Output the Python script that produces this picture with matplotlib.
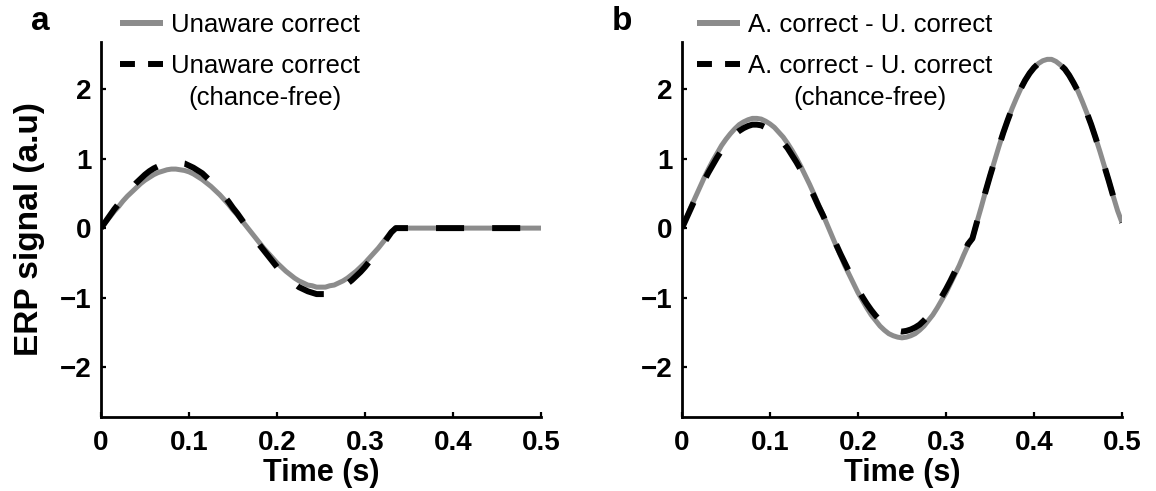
import numpy as np
import matplotlib
matplotlib.use("Agg")
import matplotlib.pyplot as plt
from matplotlib.lines import Line2D

plt.rcParams['font.family'] = ['Liberation Sans', 'DejaVu Sans']

# ---- data ----
time_s = np.round(np.arange(101) * 0.005, 3)

unaware_correct = [
    0.00, 0.08, 0.16, 0.24, 0.31, 0.39, 0.46, 0.52, 0.58, 0.64,
    0.69, 0.73, 0.77, 0.80, 0.82, 0.84, 0.85, 0.85, 0.84, 0.83,
    0.81, 0.78, 0.74, 0.70, 0.65, 0.60, 0.54, 0.48, 0.41, 0.34,
    0.26, 0.19, 0.11, 0.03, -0.05, -0.13, -0.21, -0.29, -0.36, -0.43,
    -0.50, -0.56, -0.62, -0.67, -0.72, -0.76, -0.79, -0.82, -0.83, -0.85,
    -0.85, -0.85, -0.83, -0.82, -0.79, -0.76, -0.72, -0.67, -0.62, -0.56,
    -0.50, -0.43, -0.36, -0.29, -0.21, -0.13, -0.05, 0.00, 0.00, 0.00,
    0.00, 0.00, 0.00, 0.00, 0.00, 0.00, 0.00, 0.00, 0.00, 0.00,
    0.00, 0.00, 0.00, 0.00, 0.00, 0.00, 0.00, 0.00, 0.00, 0.00,
    0.00, 0.00, 0.00, 0.00, 0.00, 0.00, 0.00, 0.00, 0.00, 0.00,
    0.00]

unaware_correct_cf = [
    0.00, 0.09, 0.18, 0.27, 0.35, 0.43, 0.51, 0.58, 0.65, 0.71,
    0.77, 0.82, 0.86, 0.89, 0.92, 0.94, 0.95, 0.95, 0.94, 0.93,
    0.90, 0.87, 0.83, 0.79, 0.73, 0.67, 0.61, 0.53, 0.46, 0.38,
    0.29, 0.21, 0.12, 0.03, -0.06, -0.15, -0.24, -0.32, -0.40, -0.48,
    -0.56, -0.63, -0.69, -0.75, -0.80, -0.85, -0.88, -0.91, -0.93, -0.95,
    -0.95, -0.95, -0.93, -0.91, -0.88, -0.85, -0.80, -0.75, -0.69, -0.63,
    -0.56, -0.48, -0.40, -0.32, -0.24, -0.15, -0.06, 0.00, 0.00, 0.00,
    0.00, 0.00, 0.00, 0.00, 0.00, 0.00, 0.00, 0.00, 0.00, 0.00,
    0.00, 0.00, 0.00, 0.00, 0.00, 0.00, 0.00, 0.00, 0.00, 0.00,
    0.00, 0.00, 0.00, 0.00, 0.00, 0.00, 0.00, 0.00, 0.00, 0.00,
    0.00]

aware_minus_unaware = [
    0.00, 0.15, 0.30, 0.44, 0.58, 0.72, 0.85, 0.97, 1.08, 1.19,
    1.28, 1.36, 1.43, 1.49, 1.53, 1.56, 1.58, 1.58, 1.57, 1.54,
    1.50, 1.45, 1.38, 1.31, 1.22, 1.12, 1.01, 0.89, 0.76, 0.63,
    0.49, 0.34, 0.20, 0.05, -0.10, -0.25, -0.39, -0.54, -0.67, -0.80,
    -0.93, -1.04, -1.15, -1.25, -1.33, -1.41, -1.47, -1.52, -1.55, -1.57,
    -1.58, -1.57, -1.55, -1.52, -1.47, -1.41, -1.33, -1.25, -1.15, -1.04,
    -0.93, -0.80, -0.67, -0.54, -0.39, -0.25, -0.15, 0.08, 0.30, 0.53,
    0.75, 0.96, 1.17, 1.37, 1.55, 1.72, 1.87, 2.01, 2.13, 2.23,
    2.31, 2.37, 2.41, 2.43, 2.43, 2.40, 2.35, 2.29, 2.20, 2.09,
    1.97, 1.82, 1.66, 1.49, 1.30, 1.10, 0.89, 0.68, 0.46, 0.25,
    0.08]

aware_minus_unaware_cf = [
    0.00, 0.14, 0.28, 0.42, 0.55, 0.68, 0.80, 0.91, 1.02, 1.12,
    1.21, 1.28, 1.35, 1.40, 1.44, 1.47, 1.49, 1.49, 1.48, 1.45,
    1.42, 1.37, 1.31, 1.23, 1.15, 1.05, 0.95, 0.84, 0.72, 0.59,
    0.46, 0.32, 0.19, 0.05, -0.09, -0.23, -0.37, -0.50, -0.63, -0.76,
    -0.88, -0.99, -1.09, -1.18, -1.26, -1.33, -1.39, -1.43, -1.46, -1.48,
    -1.49, -1.48, -1.46, -1.43, -1.39, -1.33, -1.26, -1.18, -1.09, -0.99,
    -0.88, -0.76, -0.63, -0.50, -0.37, -0.23, -0.15, 0.08, 0.30, 0.53,
    0.75, 0.96, 1.17, 1.37, 1.55, 1.72, 1.87, 2.01, 2.13, 2.23,
    2.31, 2.37, 2.41, 2.43, 2.43, 2.40, 2.35, 2.29, 2.20, 2.09,
    1.97, 1.82, 1.66, 1.49, 1.30, 1.10, 0.89, 0.68, 0.46, 0.25,
    0.08]

x_ticks = [0, 0.1, 0.2, 0.3, 0.4, 0.5]
x_tick_labels = ["0", "0.1", "0.2", "0.3", "0.4", "0.5"]
y_ticks = [-2, -1, 0, 1, 2]

panels = [
    ("a", unaware_correct, unaware_correct_cf,
     "Unaware correct", "Unaware correct"),
    ("b", aware_minus_unaware, aware_minus_unaware_cf,
     "A. correct - U. correct", "A. correct - U. correct"),
]
second_line = "(chance-free)"

# ---- figure ----
W, H = 1156, 491
fig = plt.figure(figsize=(W / 100, H / 100), dpi=100)

GRAY = "#8c8c8c"
axes_left_px = [101, 682]
legend_left_px = [120, 697]
letter_x_px = [40, 622]
legends = []

for i, (letter, gray_y, black_y, lab1, lab2) in enumerate(panels):
    ax = fig.add_axes([axes_left_px[i] / W, 1 - 417 / H, 440 / W, 375 / H])
    ax.plot(time_s, gray_y, color=GRAY, lw=3.6, solid_capstyle="butt", zorder=2)
    ax.plot(time_s, black_y, color="black", lw=4.3, dashes=(4.7, 4.7),
            dash_capstyle="butt", zorder=3)

    ax.set_xlim(0, 0.5)
    ax.set_ylim(-2.72, 2.68)
    ax.set_xticks(x_ticks)
    ax.set_xticklabels(x_tick_labels)
    ax.set_yticks(y_ticks)
    for s in ("top", "right"):
        ax.spines[s].set_visible(False)
    for s in ("left", "bottom"):
        ax.spines[s].set_linewidth(2.0)
    ax.tick_params(direction="in", length=3.5, width=1.6, labelsize=20)
    ax.tick_params(axis="x", pad=9)
    ax.tick_params(axis="y", pad=7)
    for t in ax.get_xticklabels() + ax.get_yticklabels():
        t.set_fontweight("bold")

    ax.set_xlabel("Time (s)", fontsize=22, fontweight="bold")
    ax.xaxis.set_label_coords(0.5, -0.108)
    if i == 0:
        ax.set_ylabel("ERP signal (a.u)", fontsize=24, fontweight="bold")
        ax.yaxis.set_label_coords(-0.128, 0.5)

    h1 = Line2D([], [], color=GRAY, lw=4.3, solid_capstyle="butt")
    h2 = Line2D([], [], color="black", lw=4.3, dashes=(2.5, 2.2),
                dash_capstyle="butt")
    leg = ax.legend([h1, h2], [lab1, lab2], loc="upper left",
                    bbox_to_anchor=(legend_left_px[i] / W, 1 - 13 / H),
                    bbox_transform=fig.transFigure, frameon=False,
                    borderpad=0, borderaxespad=0, handlelength=1.67,
                    handletextpad=0.3, labelspacing=0.65, fontsize=18.5)
    legends.append(leg)

    fig.text(letter_x_px[i] / W, 1 - 22 / H, letter, fontsize=24,
             fontweight="bold", ha="center", va="center")

# place the second line of the chance-free label, centred under its text
fig.canvas.draw()
for leg in legends:
    bb = leg.get_texts()[1].get_window_extent()
    cx = 0.5 * (bb.x0 + bb.x1) / W
    cy_px = 0.5 * (bb.y0 + bb.y1) - 32  # one text line below
    fig.text(cx, cy_px / H, second_line, fontsize=18.5,
             ha="center", va="center")

fig.savefig("out.png", dpi=100)
